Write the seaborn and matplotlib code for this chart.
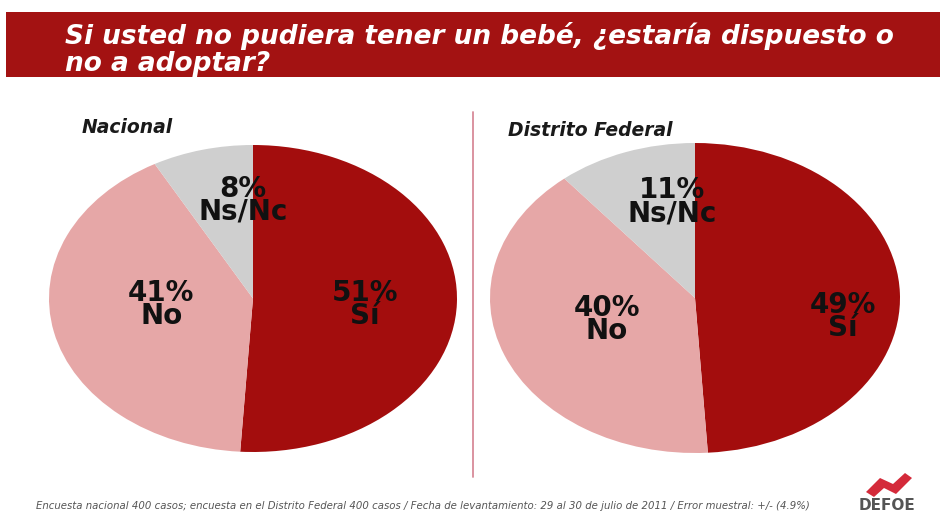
import matplotlib
matplotlib.use("Agg")
import matplotlib.pyplot as plt
import seaborn as sns
from matplotlib.patches import Rectangle, Polygon

sns.set_theme(style="white")
plt.rcParams['font.family'] = ['DejaVu Sans', 'Liberation Sans']

# ---- data ----
categories = ["Sí", "No", "Ns/Nc"]
nacional = [51, 41, 8]
distrito = [49, 40, 11]
panel_titles = ["Nacional", "Distrito Federal"]
title_lines = ["Si usted no pudiera tener un bebé, ¿estaría dispuesto o", "no a adoptar?"]
footnote = ("Encuesta nacional 400 casos; encuesta en el Distrito Federal 400 casos / "
            "Fecha de levantamiento: 29 al 30 de julio de 2011 / Error muestral: +/- (4.9%)")

colors = sns.color_palette(["#a30d0d", "#e6a7a7", "#cfcfcf"])

W, H = 940, 515
fig = plt.figure(figsize=(W / 100, H / 100), dpi=100)
fig.patch.set_facecolor("white")

def fx(px):
    return px / W

def fy(py):
    return 1 - py / H

# title banner
fig.add_artist(Rectangle((fx(6), fy(77)), fx(934), (77 - 12) / H,
                         transform=fig.transFigure, facecolor="#a31212",
                         edgecolor="none"))
for line, ty in zip(title_lines, [33, 61]):
    fig.text(fx(65), fy(ty), line, color="white", fontsize=19.0, fontweight="bold",
             fontstyle="italic", ha="left", va="center_baseline")

# divider
fig.add_artist(plt.Line2D([fx(473), fx(473)], [fy(112), fy(477)],
                          transform=fig.transFigure, color="#d88a98", lw=1.3))

panels = [
    dict(vals=nacional, box=(49, 145, 457, 452), title_xy=(82, 128),
         label_pos=[(0.55, -0.04), (-0.45, -0.04), (-0.05, 0.64)]),
    dict(vals=distrito, box=(490, 143, 900, 453), title_xy=(508, 131),
         label_pos=[(0.72, -0.12), (-0.43, -0.14), (-0.11, 0.62)]),
]

for p, ptitle in zip(panels, panel_titles):
    x0, y0, x1, y1 = p["box"]
    ax = fig.add_axes([fx(x0), fy(y1), fx(x1 - x0), (y1 - y0) / H])
    ax.pie(p["vals"], colors=colors, startangle=90, counterclock=False,
           wedgeprops=dict(linewidth=0))
    ax.set_aspect("auto")
    ax.set_xlim(-1, 1)
    ax.set_ylim(-1, 1)
    ax.axis("off")
    for v, cat, (lx, ly) in zip(p["vals"], categories, p["label_pos"]):
        ax.text(lx, ly, f"{v}%\n{cat}", ha="center", va="center", fontsize=20,
                fontweight="bold", color="#111111", linespacing=0.78)
    fig.text(fx(p["title_xy"][0]), fy(p["title_xy"][1]), ptitle, fontsize=13.5,
             fontweight="bold", fontstyle="italic", color="#1a1a1a",
             ha="left", va="center")

# footnote
fig.text(fx(36), fy(506), footnote, fontsize=7.3, fontstyle="italic",
         color="#555555", ha="left", va="center")

# logo
fig.add_artist(Polygon([(fx(866), fy(492)), (fx(880), fy(478)), (fx(893), fy(484)),
                        (fx(905), fy(473)), (fx(912), fy(478)), (fx(896), fy(494)),
                        (fx(884), fy(488)), (fx(874), fy(497))],
                       closed=True, transform=fig.transFigure,
                       facecolor="#d42a3a", edgecolor="none"))
fig.text(fx(887), fy(506), "DEFOE", fontsize=11, fontweight="bold",
         color="#555555", ha="center", va="center")

fig.savefig("out.png", dpi=100)
